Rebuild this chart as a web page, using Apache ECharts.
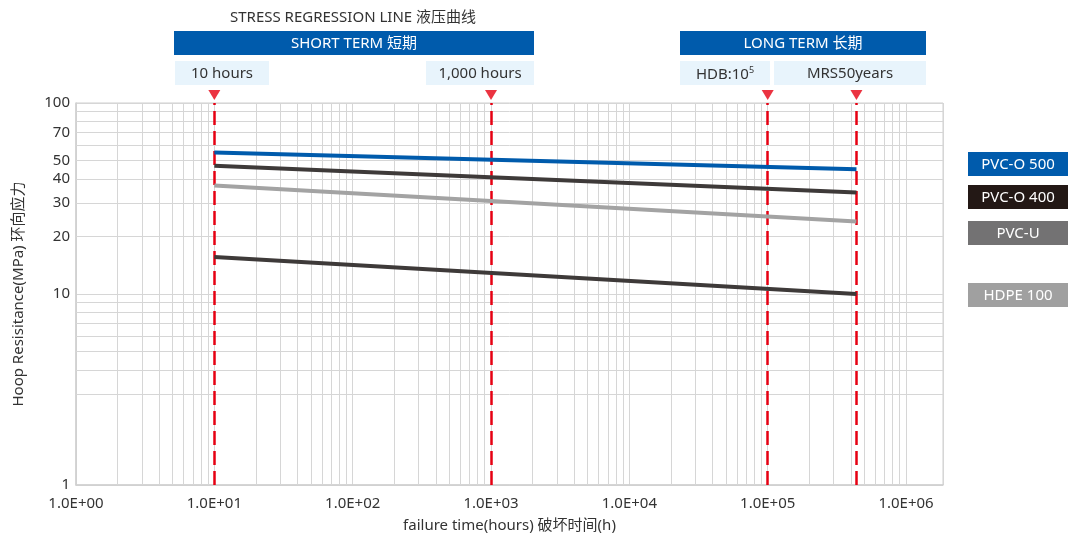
<!DOCTYPE html>
<html>
<head>
<meta charset="utf-8">
<script src="https://cdn.jsdelivr.net/npm/echarts@6/dist/echarts.min.js"></script>
<style>
html,body{margin:0;padding:0;background:#fff;}
#chart{width:1068px;height:538px;}
</style>
</head>
<body>
<div id="chart"></div>
<script>
// ---- data ----
const seriesNames = ['PVC-O 500', 'PVC-O 400', 'PVC-U', 'HDPE 100'];
const hours = [10, 438000];
const pvco500 = [55, 45];
const pvco400 = [47, 34];
const pvcu = [37, 24];
const hdpe100 = [15.6, 10];
const markerHours = [10, 1000, 100000, 438000];
const yExtraTicks = [20, 30, 40, 50, 70];
const yMinorGrid = [3, 4, 5, 6, 7, 8, 9, 20, 30, 40, 50, 60, 70, 80, 90];
const xMinorGrid = [];
[1, 10, 100, 1000, 10000, 100000].forEach(function (d) {
  [2, 3, 4, 5, 6, 7, 8, 9].forEach(function (m) { xMinorGrid.push(m * d); });
});
const titleText = 'STRESS REGRESSION LINE 液压曲线';
const shortTermText = 'SHORT TERM 短期';
const longTermText = 'LONG TERM 长期';
const boxTexts = ['10 hours', '1,000 hours', 'HDB:10', 'MRS50years'];
const xAxisName = 'failure time(hours) 破坏时间(h)';
const yAxisName = 'Hoop Resisitance(MPa) 环向应力';

// ---- styles ----
const FONT = '"Noto Sans", "Noto Sans CJK SC", sans-serif';
const FS = 15;
const TXT = '#333333';
const BLUE = '#005bac';
const LIGHT = '#e8f4fc';
const GRID = '#d6d6d6';
const RED = '#e60012';
const lineColors = [BLUE, '#3e3a39', '#a3a3a3', '#3e3a39'];
const legendColors = [BLUE, '#231815', '#737273', '#a0a0a0'];

function zip(xs, ys) { return xs.map(function (x, i) { return [x, ys[i]]; }); }
const seriesValues = [pvco500, pvco400, pvcu, hdpe100];

const chart = echarts.init(document.getElementById('chart'), null, {renderer: 'canvas'});

const graphics = [];
function addBox(x, y, w, h, fill, text, color, rich) {
  graphics.push({type: 'rect', shape: {x: x, y: y, width: w, height: h}, style: {fill: fill}, silent: true});
  const st = {text: text, x: x + w / 2, y: y + h / 2 + 1, textAlign: 'center', textVerticalAlign: 'middle',
    fill: color, font: FS + 'px ' + FONT};
  if (rich) st.rich = rich;
  graphics.push({type: 'text', style: st, silent: true});
}
graphics.push({type: 'text', style: {text: titleText, x: 353, y: 18, textAlign: 'center', textVerticalAlign: 'middle',
  fill: TXT, font: FS + 'px ' + FONT}, silent: true});
addBox(174, 31, 360, 24, BLUE, shortTermText, '#ffffff');
addBox(680, 31, 246, 24, BLUE, longTermText, '#ffffff');
addBox(175, 61, 94, 24, LIGHT, boxTexts[0], TXT);
addBox(426, 61, 108, 24, LIGHT, boxTexts[1], TXT);
addBox(680, 61, 90, 24, LIGHT, '{a|' + boxTexts[2] + '}{s|5}', TXT,
  {a: {fontSize: FS, fontFamily: FONT, fill: TXT, color: TXT, verticalAlign: 'bottom'},
   s: {fontSize: 9, fontFamily: FONT, fill: TXT, color: TXT, verticalAlign: 'top', padding: [0, 0, 7, 0]}});
addBox(774, 61, 152, 24, LIGHT, boxTexts[3], TXT);
const legendY = [152, 185, 221, 283];
seriesNames.forEach(function (n, i) {
  addBox(968, legendY[i], 100, 24, legendColors[i], n, '#ffffff');
});

const series = seriesNames.map(function (n, i) {
  return {
    name: n, type: 'line', data: zip(hours, seriesValues[i]), symbol: 'none', z: 5,
    lineStyle: {color: lineColors[i], width: 4, cap: 'butt'}, animation: false
  };
});

const gridMarkData = xMinorGrid.map(function (v) { return {xAxis: v}; }).concat(
  yMinorGrid.map(function (v) {
    const showLab = yExtraTicks.indexOf(v) >= 0;
    return {yAxis: v, label: {show: showLab, position: 'start', formatter: String(v), distance: 6,
      color: TXT, fontSize: FS, fontFamily: FONT}};
  })
);
series.push({
  type: 'line', data: [], z: 1, animation: false, silent: true,
  markLine: {silent: true, animation: false, symbol: ['none', 'none'], precision: 10,
    lineStyle: {color: GRID, width: 1, type: 'solid'}, label: {show: false},
    emphasis: {disabled: true}, data: gridMarkData}
});
series.push({
  type: 'line', data: [], z: 3, animation: false, silent: true,
  markLine: {silent: true, animation: false, symbol: ['none', 'none'], precision: 10,
    lineStyle: {color: RED, width: 2.5, type: [14, 6]}, label: {show: false},
    emphasis: {disabled: true}, data: markerHours.map(function (v) { return {xAxis: v}; })}
});
series.push({
  type: 'scatter', data: markerHours.map(function (v) { return [v, 100]; }), z: 6, clip: false,
  symbol: 'triangle', symbolRotate: 180, symbolSize: [12, 10], symbolOffset: [0, -8],
  itemStyle: {color: RED}, animation: false, silent: true
});

chart.setOption({
  backgroundColor: '#ffffff',
  animation: false,
  textStyle: {fontFamily: FONT},
  grid: {left: 76, right: 125, top: 103, bottom: 50, show: true, borderColor: '#cfcfcf', borderWidth: 1},
  graphic: graphics,
  xAxis: {
    type: 'log', logBase: 10, min: 1, max: 1850000,
    name: xAxisName, nameLocation: 'middle', nameGap: 33,
    nameTextStyle: {color: TXT, fontSize: FS, fontFamily: FONT},
    axisLine: {show: true, lineStyle: {color: '#cfcfcf', width: 1.5}},
    axisTick: {show: false},
    axisLabel: {color: TXT, fontSize: FS, fontFamily: FONT, margin: 11, showMaxLabel: false,
      formatter: function (v) {
        const e = Math.round(Math.log10(v));
        if (Math.abs(Math.log10(v) - e) > 1e-6) return '';
        return '1.0E+' + (e < 10 ? '0' : '') + e;
      }},
    splitLine: {show: true, lineStyle: {color: GRID, width: 1}}
  },
  yAxis: {
    type: 'log', logBase: 10, min: 1, max: 100,
    name: yAxisName, nameLocation: 'middle', nameGap: 50,
    nameTextStyle: {color: TXT, fontSize: FS, fontFamily: FONT},
    axisLine: {show: true, lineStyle: {color: '#cfcfcf', width: 1.5}},
    axisTick: {show: false},
    axisLabel: {color: TXT, fontSize: FS, fontFamily: FONT, margin: 6},
    splitLine: {show: true, lineStyle: {color: GRID, width: 1}}
  },
  series: series
});
</script>
</body>
</html>
